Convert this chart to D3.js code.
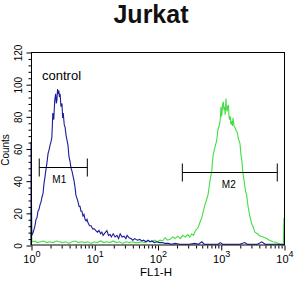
<!DOCTYPE html>
<html>
<head>
<meta charset="utf-8">
<script src="https://cdn.jsdelivr.net/npm/d3@7"></script>
<style>
  html, body { margin: 0; padding: 0; background: #fff; }
  svg { display: block; font-family: "Liberation Sans", Arial, sans-serif; }
</style>
</head>
<body>
<svg id="chart" width="305" height="296"></svg>
<script>
// ---- data (log10 of FL1-H channel, counts) ----
const titleText = "Jurkat";
const xLabel = "FL1-H";
const yLabel = "Counts";
const xDecades = [0, 1, 2, 3, 4];
const yTicks = [0, 20, 40, 60, 80, 100, 120];

const controlLog = [0,0,0.012,0.03,0.05,0.063,0.08,0.095,0.11,0.126,0.142,0.16,0.175,0.19,0.205,0.22,0.237,0.255,0.27,0.285,0.30,0.315,0.33,0.345,0.36,0.375,0.39,0.40,0.41,0.42,0.432,0.44,0.45,0.46,0.474,0.49,0.50,0.51,0.525,0.54,0.555,0.57,0.585,0.60,0.617,0.632,0.648,0.664,0.68,0.696,0.71,0.727,0.743,0.76,0.775,0.79,0.805,0.822,0.838,0.854,0.87,0.885,0.90,0.925,0.95,0.975,1.0,1.025,1.05,1.075,1.1,1.12,1.14,1.17,1.2,1.225,1.25,1.27,1.3,1.33,1.36,1.385,1.41,1.44,1.47,1.5,1.52,1.55,1.58,1.61,1.64,1.68,1.72,1.75,1.78,1.82,1.85,1.88,1.91,1.95,1.99,2.03,2.07,2.12,2.17,2.22,2.28,2.35,2.43,2.5,2.59,2.65,2.7,2.74,2.82,2.91,2.96,2.99,3.03,3.1,3.2,3.3,3.38,3.42,3.5,3.58,3.65,3.7,3.8,3.9,3.97,4.0];
const controlCounts = [0,64,6,7.5,10,12,16,17,21,22,25,27,30,32,38,42,47,52,57,59,62,64,67,82,78,90,94,88,90,97,94,96,92,94,86,88,79,82,75,73,68,65,62,55,52,48,46,43,40,36,31,29,27,24,24,21,21,18,19,16,15,16,14,12,12,10,10,9,8,9,7,8,6,7.5,9,6,6.5,5,7,5,6,4,7,5,5.5,4,6,4.5,4,3,4,3,3.5,2.5,3,2,3,2,2.5,1.5,2,1.5,1.5,1,1,0.5,1,0.5,0.5,0.5,1,0.5,2,0.5,0.5,0.5,0.5,1.5,0.5,0.5,0.5,0.5,1.5,0.5,0.5,0.5,2,0.5,0.5,0.5,0.5,0];

const sampleLog = [0,0,0.015,0.06,0.1,0.15,0.2,0.25,0.3,0.35,0.4,0.45,0.5,0.55,0.6,0.65,0.7,0.75,0.8,0.85,0.9,0.95,1.0,1.05,1.1,1.15,1.2,1.25,1.3,1.35,1.4,1.45,1.5,1.55,1.6,1.65,1.7,1.75,1.8,1.85,1.9,1.95,2.0,2.04,2.08,2.12,2.16,2.2,2.24,2.28,2.32,2.36,2.4,2.44,2.48,2.51,2.54,2.57,2.6,2.625,2.645,2.67,2.70,2.725,2.75,2.775,2.80,2.83,2.857,2.87,2.88,2.91,2.936,2.957,2.975,2.99,3.004,3.012,3.02,3.03,3.04,3.05,3.06,3.07,3.083,3.09,3.10,3.11,3.122,3.13,3.138,3.15,3.16,3.173,3.185,3.194,3.21,3.225,3.245,3.262,3.28,3.304,3.32,3.335,3.347,3.365,3.383,3.395,3.41,3.425,3.436,3.46,3.49,3.515,3.54,3.58,3.62,3.67,3.727,3.77,3.826,3.88,3.937,3.99,4.0,4.0];
const sampleCounts = [0,22,2,2.5,1.5,2,2.5,1.5,2,1.5,2.5,2,1.5,2,1,2,2.5,1.5,2,1.5,2,1,2,1.5,2.5,1.5,2,1.5,2.5,1.5,2,1,2,1.5,2,1.5,1.5,2,1.5,2.5,2,3,2,3,2.5,4.5,3,3.5,5,4,5.5,4,6,5,6.5,5,7,6,9,10,11,14,17,21,25,28,31.5,40,46,52,56,61,65,72,74,77,86,80,82,88,89,84,86,81,91,85,83,86,87,80,78,80,75,77,74,79,74,73,71,70,66,63,56,52,46,41,36,33,31,26,23,18,13,11,8,7,5.6,5,4,3,2,1.5,0.5,0.5,17,0];

// markers: [name, FL1-H start, FL1-H end, count level]
const markerNames = ["M1", "M2"];
const markerStart = [1.35, 247];
const markerEnd = [7.77, 7830];
const markerLevel = [48.3, 45.2];

const annotation = "control";

// ---- layout ----
const svg = d3.select("#chart");
const W = 305, H = 296;
const plot = { left: 31, right: 284, top: 52, bottom: 245 };
const font = "'Liberation Sans', Arial, sans-serif";

svg.append("rect").attr("width", W).attr("height", H).attr("fill", "#fff");

const x = d3.scaleLog().domain([1, 1e4]).range([plot.left, plot.right]);
const y = d3.scaleLinear().domain([0, 120]).range([plot.bottom, plot.top]);

// title
svg.append("text")
  .attr("x", 151).attr("y", 23)
  .attr("text-anchor", "middle")
  .attr("font-size", 25).attr("font-weight", "bold")
  .attr("fill", "#111")
  .text(titleText);

// curves
const line = d3.line()
  .x(d => x(Math.pow(10, d[0])))
  .y(d => y(d[1]));

const controlData = controlLog.map((d, i) => [d, controlCounts[i]]);
const sampleData = sampleLog.map((d, i) => [d, sampleCounts[i]]);

svg.append("path").datum(sampleData)
  .attr("d", line).attr("fill", "none")
  .attr("stroke", "#44dd44").attr("stroke-width", 1.1);
svg.append("path").datum(controlData)
  .attr("d", line).attr("fill", "none")
  .attr("stroke", "#1c1c96").attr("stroke-width", 1.1);

// frame
svg.append("rect")
  .attr("x", plot.left + 0.5).attr("y", plot.top + 0.5)
  .attr("width", plot.right - plot.left).attr("height", plot.bottom - plot.top - 0.5)
  .attr("fill", "none").attr("stroke", "#000").attr("stroke-width", 1);

// x axis: major & minor ticks
const majorX = xDecades.map(d => Math.pow(10, d));
const minorX = [];
for (let e = 0; e < 4; e++) for (let m = 2; m <= 9; m++) minorX.push(m * Math.pow(10, e));

const gxMinor = svg.append("g").attr("transform", `translate(0.5,${plot.bottom + 0.5})`)
  .call(d3.axisBottom(x).tickValues(minorX).tickSize(3).tickFormat(""));
const gxMajor = svg.append("g").attr("transform", `translate(0.5,${plot.bottom + 0.5})`)
  .call(d3.axisBottom(x).tickValues(majorX).tickSize(5).tickFormat(""));
[gxMinor, gxMajor].forEach(g => { g.select(".domain").remove(); g.selectAll("line").attr("stroke", "#000"); });

// x tick labels 10^n
const xl = svg.append("g");
xDecades.forEach(d => {
  const t = xl.append("text")
    .attr("x", x(Math.pow(10, d)) + 1).attr("y", 263)
    .attr("text-anchor", "middle").attr("font-size", 11).attr("fill", "#000");
  t.append("tspan").text("10");
  t.append("tspan").attr("dy", -6).attr("font-size", 9).text(String(d));
});

svg.append("text")
  .attr("x", 156).attr("y", 276)
  .attr("text-anchor", "middle").attr("font-size", 11.5).attr("fill", "#000")
  .text(xLabel);

// y axis
const minorY = d3.range(0, 121, 4).filter(v => v % 20 !== 0);
const gyMinor = svg.append("g").attr("transform", `translate(${plot.left + 0.5},0.5)`)
  .call(d3.axisLeft(y).tickValues(minorY).tickSize(3).tickFormat(""));
const gyMajor = svg.append("g").attr("transform", `translate(${plot.left + 0.5},0.5)`)
  .call(d3.axisLeft(y).tickValues(yTicks).tickSize(5).tickFormat(""));
[gyMinor, gyMajor].forEach(g => { g.select(".domain").remove(); g.selectAll("line").attr("stroke", "#000"); });

yTicks.forEach(v => {
  svg.append("text")
    .attr("transform", `translate(22,${y(v) + 1}) rotate(-90)`)
    .attr("text-anchor", "middle").attr("font-size", 10).attr("fill", "#000")
    .text(String(v));
});

svg.append("text")
  .attr("transform", `translate(9,150) rotate(-90)`)
  .attr("text-anchor", "middle").attr("font-size", 10).attr("fill", "#000")
  .text(yLabel);

// markers
markerNames.forEach((name, i) => {
  const x0 = x(markerStart[i]), x1 = x(markerEnd[i]), yy = Math.round(y(markerLevel[i])) + 0.5;
  const g = svg.append("g").attr("stroke", "#000").attr("stroke-width", 1);
  g.append("line").attr("x1", x0).attr("x2", x1).attr("y1", yy).attr("y2", yy);
  g.append("line").attr("x1", x0).attr("x2", x0).attr("y1", yy - 9).attr("y2", yy + 9);
  g.append("line").attr("x1", x1).attr("x2", x1).attr("y1", yy - 9).attr("y2", yy + 9);
  svg.append("text")
    .attr("x", (x0 + x1) / 2 - (i === 0 ? 4 : 1)).attr("y", yy + 15.5)
    .attr("text-anchor", "middle").attr("font-size", 10).attr("fill", "#000")
    .text(name);
});

// annotation
svg.append("text")
  .attr("x", 42).attr("y", 80)
  .attr("font-size", 13).attr("fill", "#000")
  .text(annotation);
</script>
</body>
</html>
